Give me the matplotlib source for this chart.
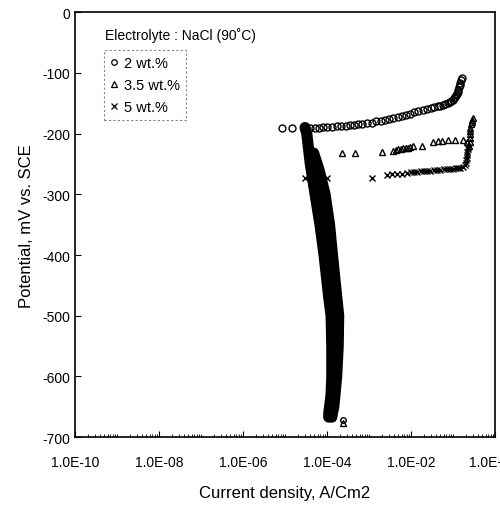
import matplotlib
matplotlib.use("Agg")
import matplotlib.pyplot as plt
from matplotlib.lines import Line2D
from matplotlib.ticker import LogLocator, NullFormatter, FixedLocator

plt.rcParams['font.family'] = ['Liberation Sans', 'DejaVu Sans']

# 2 wt.% (circles)
c2_anodic_i = [8.5e-6, 1.5e-5, 3.0e-5, 4.0e-5, 5.2e-5, 6.5e-5, 8.0e-5, 1.0e-4, 1.3e-4, 1.7e-4,
               2.2e-4, 2.8e-4, 3.6e-4, 4.5e-4, 5.6e-4, 7.0e-4, 9.0e-4, 1.15e-3, 1.5e-3, 1.9e-3,
               2.4e-3, 3.0e-3, 3.8e-3, 4.8e-3, 6.0e-3, 7.5e-3, 9.5e-3, 1.2e-2, 1.5e-2, 1.9e-2,
               2.4e-2, 3.0e-2, 3.6e-2, 4.3e-2, 5.0e-2, 5.8e-2, 6.6e-2, 7.5e-2, 8.4e-2, 9.2e-2,
               1.0e-1, 1.07e-1, 1.13e-1, 1.19e-1, 1.25e-1, 1.3e-1, 1.35e-1, 1.4e-1, 1.45e-1, 1.5e-1,
               1.55e-1, 1.6e-1]
c2_anodic_e = [-190, -190, -190, -190, -190, -190, -189, -189, -189, -188,
               -188, -187, -186, -186, -185, -184, -183, -182, -180, -179,
               -177, -176, -174, -173, -171, -169, -167, -165, -163, -161,
               -160, -158, -157, -155, -154, -153, -151, -150, -148, -146,
               -144, -142, -140, -137, -134, -131, -128, -124, -120, -116,
               -112, -108]
c2_cath_i = [3.0e-5, 3.3e-5, 4.0e-5, 5.2e-5, 6.8e-5, 8.5e-5, 9.5e-5, 1.1e-4, 1.25e-4, 1.3e-4,
             1.3e-4, 1.25e-4, 1.15e-4, 1.1e-4, 1.1e-4]
c2_cath_e = [-190, -200, -250, -300, -350, -400, -430, -470, -500, -550,
             -600, -630, -650, -660, -667]
c2_tail_i = [2.4e-4]
c2_tail_e = [-672]

# 3.5 wt.% (triangles)
t35_anodic_i = [2.3e-4, 4.7e-4, 2.0e-3, 3.7e-3, 4.3e-3, 5.0e-3, 5.7e-3, 6.5e-3, 7.4e-3, 8.4e-3,
                9.5e-3, 1.1e-2, 1.8e-2, 3.3e-2, 4.4e-2, 5.5e-2, 7.6e-2, 1.1e-1, 1.7e-1, 2.2e-1,
                2.4e-1, 2.5e-1, 2.5e-1, 2.55e-1, 2.6e-1, 2.6e-1, 2.7e-1, 2.8e-1, 2.9e-1, 3.0e-1]
t35_anodic_e = [-232, -232, -230, -228, -227, -226, -225, -224, -223, -223,
                -222, -221, -221, -214, -213, -212, -211, -211, -211, -214,
                -221, -214, -207, -201, -195, -190, -185, -181, -178, -175]
t35_cath_i = [4.8e-5, 6.5e-5, 9.0e-5, 1.15e-4, 1.35e-4, 1.6e-4, 1.9e-4, 1.85e-4,
              1.7e-4, 1.55e-4, 1.45e-4, 1.35e-4, 1.3e-4]
t35_cath_e = [-232, -260, -300, -350, -400, -450, -500, -550,
              -600, -630, -650, -660, -667]
t35_tail_i = [2.4e-4]
t35_tail_e = [-676]

# 5 wt.% (crosses)
x5_anodic_i = [3.0e-5, 1.0e-4, 1.2e-3, 2.7e-3, 3.6e-3, 4.7e-3, 6.0e-3, 8.0e-3, 1.0e-2, 1.2e-2,
               1.4e-2, 1.7e-2, 2.0e-2, 2.4e-2, 2.9e-2, 3.5e-2, 4.2e-2, 5.0e-2, 6.0e-2, 7.2e-2,
               8.5e-2, 1.0e-1, 1.15e-1, 1.3e-1, 1.5e-1, 1.7e-1, 1.9e-1, 2.0e-1, 2.05e-1, 2.1e-1,
               2.15e-1, 2.2e-1, 2.25e-1, 2.3e-1]
x5_anodic_e = [-273, -273, -273, -268, -267, -266, -266, -265, -264, -264,
               -263, -262, -262, -261, -261, -260, -260, -260, -259, -259,
               -258, -258, -257, -257, -256, -255, -252, -248, -244, -240,
               -235, -230, -226, -222]
x5_cath_i = [7.0e-5, 8.5e-5, 1.0e-4, 1.2e-4, 1.45e-4, 1.65e-4, 1.65e-4,
             1.55e-4, 1.45e-4, 1.35e-4, 1.25e-4]
x5_cath_e = [-273, -310, -350, -400, -450, -500, -550,
             -600, -630, -650, -665]

y_ticks = [0, -100, -200, -300, -400, -500, -600, -700]
x_ticks = [1e-10, 1e-8, 1e-6, 1e-4, 1e-2, 1e0]
x_tick_labels = ["1.0E-10", "1.0E-08", "1.0E-06", "1.0E-04", "1.0E-02", "1.0E+00"]

fig = plt.figure(figsize=(5, 5.06), dpi=100)
ax = fig.add_axes([0.15, 0.134, 0.84, 0.840])

series = [
    (c2_anodic_i, c2_anodic_e, c2_cath_i, c2_cath_e, c2_tail_i, c2_tail_e, 'o', "2 wt.%"),
    (t35_anodic_i, t35_anodic_e, t35_cath_i, t35_cath_e, t35_tail_i, t35_tail_e, '^', "3.5 wt.%"),
    (x5_anodic_i, x5_anodic_e, x5_cath_i, x5_cath_e, [], [], 'x', "5 wt.%"),
]

handles = []
for ai, ae, ci, ce, ti, te, mk, lab in series:
    ax.plot(ai, ae, linestyle='none', marker=mk, ms=5, mfc='none', mec='black', mew=1.0)
    # cathodic branch: markers so dense they merge into a solid band
    ax.plot(ci, ce, '-', color='black', lw=8, solid_capstyle='round')
    ax.plot(ci, ce, linestyle='none', marker=mk, ms=5, mfc='none', mec='black', mew=1.0)
    ax.plot(ti, te, linestyle='none', marker=mk, ms=4, mfc='none', mec='black', mew=1.0)
    handles.append(Line2D([], [], linestyle='none', marker=mk, ms=4, mfc='none',
                          mec='black', mew=0.9, label=lab))

ax.set_xscale('log')
ax.set_xlim(1e-10, 1e0)
ax.set_ylim(-700, 0)
ax.xaxis.set_major_locator(FixedLocator(x_ticks))
ax.set_xticks(x_ticks)
ax.set_xticklabels(x_tick_labels)
ax.xaxis.set_minor_locator(LogLocator(base=10, subs='all', numticks=50))
ax.xaxis.set_minor_formatter(NullFormatter())
ax.set_yticks(y_ticks)
ax.set_yticklabels([str(v) for v in y_ticks])

ax.tick_params(axis='both', which='major', direction='in', length=4, width=0.8, labelsize=10)
ax.tick_params(axis='x', which='major', pad=13)
ax.tick_params(axis='x', which='minor', direction='in', length=2, width=0.6)
for s in ax.spines.values():
    s.set_linewidth(1.2)

ax.set_xlabel("Current density, A/Cm2", fontsize=12, labelpad=11)
ax.set_ylabel("Potential, mV vs. SCE", fontsize=12, labelpad=6)

ax.text(0.071, 0.948, "Electrolyte : NaCl (90\u02daC)", transform=ax.transAxes,
        fontsize=10, va='center', ha='left')
leg = ax.legend(handles=handles, loc='upper left', bbox_to_anchor=(0.068, 0.91),
                frameon=True, fancybox=False, fontsize=10.5, handlelength=0.6,
                handletextpad=0.4, labelspacing=0.55, borderpad=0.4, borderaxespad=0)
leg.get_frame().set_linestyle((0, (2, 2)))
leg.get_frame().set_edgecolor('#666666')
leg.get_frame().set_linewidth(0.8)

fig.savefig("out.png", dpi=100)
